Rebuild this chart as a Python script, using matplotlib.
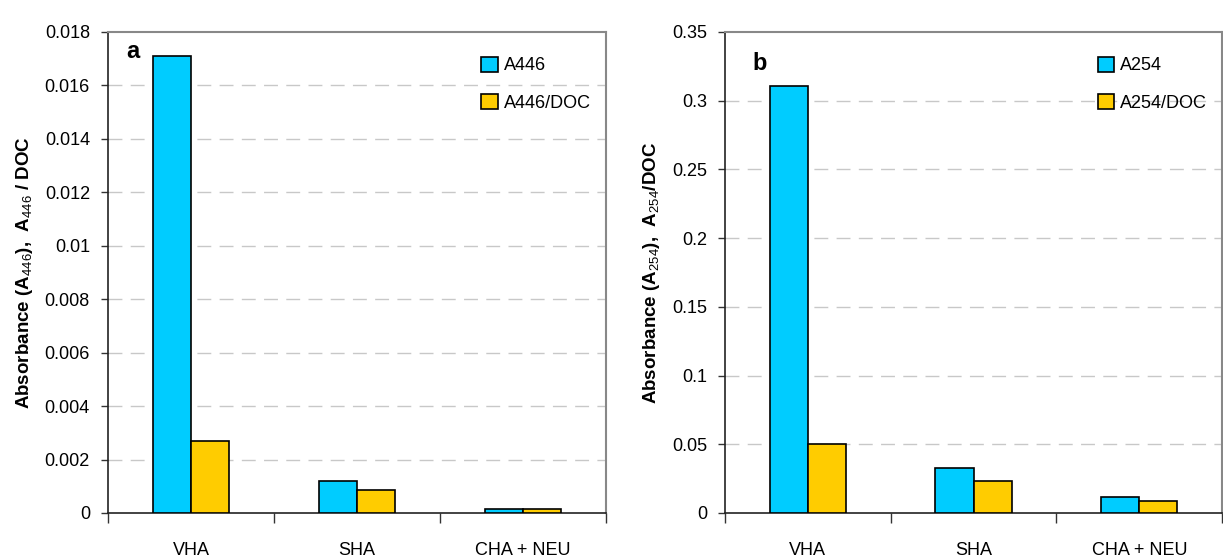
import matplotlib
matplotlib.use("Agg")
import matplotlib.pyplot as plt
from matplotlib import font_manager
import numpy as np
from matplotlib.patches import Patch

available = {f.name for f in font_manager.fontManager.ttflist}
NARROW = 'Liberation Sans Narrow' if 'Liberation Sans Narrow' in available else 'Liberation Sans'

plt.rcParams['font.family'] = [NARROW, 'DejaVu Sans']
plt.rcParams['mathtext.fontset'] = 'custom'
plt.rcParams['mathtext.rm'] = NARROW
plt.rcParams['mathtext.it'] = NARROW + ':italic'
plt.rcParams['mathtext.bf'] = NARROW + ':bold'

categories = ["VHA", "SHA", "CHA + NEU"]
a_abs = [0.0171, 0.0012, 0.00015]
a_doc = [0.0027, 0.00085, 0.00015]
b_abs = [0.311, 0.033, 0.012]
b_doc = [0.050, 0.023, 0.009]

a_ticks = [0, 0.002, 0.004, 0.006, 0.008, 0.01, 0.012, 0.014, 0.016, 0.018]
a_ticklabels = ["0", "0.002", "0.004", "0.006", "0.008", "0.01", "0.012", "0.014", "0.016", "0.018"]
b_ticks = [0, 0.05, 0.1, 0.15, 0.2, 0.25, 0.3, 0.35]
b_ticklabels = ["0", "0.05", "0.1", "0.15", "0.2", "0.25", "0.3", "0.35"]

BLUE = "#00CCFF"
YELLOW = "#FFCC00"

fig = plt.figure(figsize=(12.23, 5.59), dpi=100)
ax_a = fig.add_axes([0.0883, 0.0823, 0.4072, 0.8605])
ax_b = fig.add_axes([0.5928, 0.0823, 0.4065, 0.8605])

def draw(ax, v1, v2, ticks, ticklabels, ymax, ylabel, names, letter, letter_pos):
    x = np.arange(len(categories))
    w = 0.23
    ax.bar(x - w / 2, v1, w, color=BLUE, edgecolor="black", linewidth=1.2, zorder=3)
    ax.bar(x + w / 2, v2, w, color=YELLOW, edgecolor="black", linewidth=1.2, zorder=3)
    ax.set_xlim(-0.5, len(categories) - 0.5)
    ax.set_ylim(0, ymax)
    ax.set_yticks(ticks)
    ax.set_yticklabels(ticklabels, fontsize=13)
    ax.set_xticks(x)
    ax.set_xticklabels(categories, fontsize=13)
    ax.tick_params(axis='x', which='major', length=0, pad=21)
    ax.set_xticks(np.arange(-0.5, len(categories)), minor=True)
    ax.tick_params(axis='x', which='minor', length=7, width=1, color="#333333")
    ax.tick_params(axis='y', length=5, width=1, color="#333333", pad=8)
    for t in ticks[1:-1]:
        ax.axhline(t, color="#c8c8c8", linestyle=(0, (10, 6)), linewidth=1, zorder=1)
    for s in ['left', 'bottom']:
        ax.spines[s].set_color("#222222")
        ax.spines[s].set_linewidth(1.2)
    for s in ['top', 'right']:
        ax.spines[s].set_color("#888888")
        ax.spines[s].set_linewidth(1.5)
    ax.set_ylabel(ylabel, fontsize=13.5, fontweight='bold', labelpad=7)
    handles = [Patch(facecolor=BLUE, edgecolor="black", linewidth=1.2),
               Patch(facecolor=YELLOW, edgecolor="black", linewidth=1.2)]
    ax.legend(handles, names, loc='upper right', bbox_to_anchor=(0.995, 0.975), frameon=False,
              fontsize=13, handlelength=0.9, handleheight=0.9, handletextpad=0.35,
              labelspacing=1.1, borderaxespad=0.3)
    ax.text(letter_pos[0], letter_pos[1], letter, transform=ax.transAxes,
            fontsize=17, fontweight='bold', ha='left', va='center')

draw(ax_a, a_abs, a_doc, a_ticks, a_ticklabels, 0.018,
     r'Absorbance (A$_{446}$),  A$_{446}$ / DOC', ["A446", "A446/DOC"], "a", (0.036, 0.96))
draw(ax_b, b_abs, b_doc, b_ticks, b_ticklabels, 0.35,
     r'Absorbance (A$_{254}$),  A$_{254}$/DOC', ["A254", "A254/DOC"], "b", (0.056, 0.935))

fig.savefig("out.png", dpi=100)
